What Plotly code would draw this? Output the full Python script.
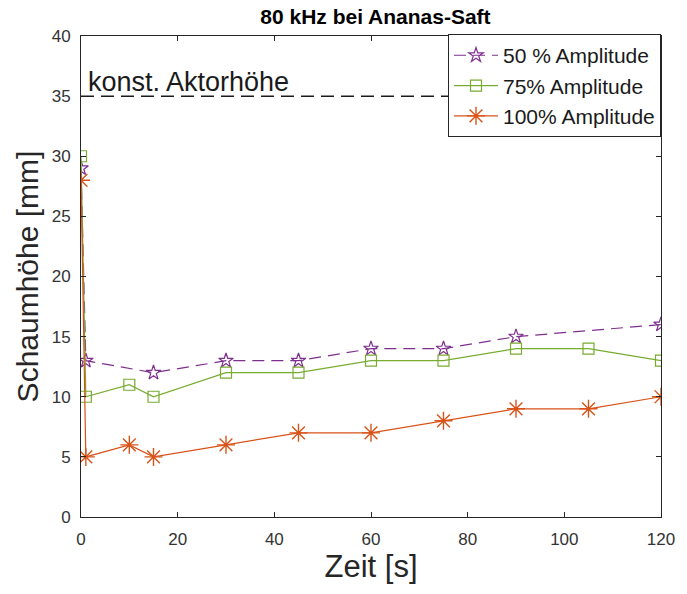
import plotly.graph_objects as go

# Data
t_50 = [0, 1, 15, 30, 45, 60, 75, 90, 120]
h_50 = [29, 13, 12, 13, 13, 14, 14, 15, 16]
t_75 = [0, 1, 10, 15, 30, 45, 60, 75, 90, 105, 120]
h_75 = [30, 10, 11, 10, 12, 12, 13, 13, 14, 14, 13]
t_100 = [0, 1, 10, 15, 30, 45, 60, 75, 90, 105, 120]
h_100 = [28, 5, 6, 5, 6, 7, 7, 8, 9, 9, 10]
aktor_hoehe = 35
x_range = [0, 120]
y_range = [0, 40]

FONT = "Liberation Sans, Arial, sans-serif"

fig = go.Figure()
fig.add_trace(go.Scatter(
    x=t_50, y=h_50, name="50 % Amplitude", mode="lines+markers",
    line=dict(color="#7E2F8E", width=1.2, dash="12px,7px"),
    marker=dict(symbol="star-open", size=11, color="#7E2F8E", line=dict(width=1.2, color="#7E2F8E")),
))
fig.add_trace(go.Scatter(
    x=t_75, y=h_75, name="75% Amplitude", mode="lines+markers",
    line=dict(color="#77AC30", width=1.2),
    marker=dict(symbol="square-open", size=11, color="#77AC30", line=dict(width=1.2, color="#77AC30")),
))
fig.add_trace(go.Scatter(
    x=t_100, y=h_100, name="100% Amplitude", mode="lines+markers",
    line=dict(color="#D95319", width=1.2),
    marker=dict(symbol="asterisk-open", size=15, color="#D95319", line=dict(width=1.4, color="#D95319")),
))

fig.add_shape(type="line", xref="x", yref="y", x0=x_range[0], x1=x_range[1],
              y0=aktor_hoehe, y1=aktor_hoehe, line=dict(color="#1a1a1a", width=1.5, dash="13px,7px"))
fig.add_annotation(x=0, y=aktor_hoehe, xref="x", yref="y", text="konst. Aktorhöhe",
                   showarrow=False, xanchor="left", yanchor="bottom", xshift=5, yshift=-3,
                   font=dict(family=FONT, size=27, color="#1a1a1a"))

axis_common = dict(
    showgrid=False, zeroline=False, showline=True, linecolor="#262626", linewidth=1,
    mirror="ticks", ticks="inside", ticklen=5, tickcolor="#262626",
    tickfont=dict(family=FONT, size=17, color="#333333"),
)
fig.update_xaxes(range=x_range, dtick=20, tick0=0, ticklabelstandoff=7,
                 title=dict(text="Zeit [s]", font=dict(family=FONT, size=31, color="#262626"), standoff=6),
                 **axis_common)
fig.update_yaxes(range=y_range, dtick=5, tick0=0, ticklabelstandoff=6,
                 title=dict(text="Schaumhöhe [mm]", font=dict(family=FONT, size=30, color="#262626"), standoff=4),
                 **axis_common)

fig.update_layout(
    width=687, height=594,
    margin=dict(l=81, r=17, t=36, b=77),
    plot_bgcolor="white", paper_bgcolor="white",
    title=dict(text="<b>80 kHz bei Ananas-Saft</b>", x=0.5465, xanchor="center", y=0.972, yanchor="middle",
               font=dict(family=FONT, size=21, color="black")),
    legend=dict(x=1.0, y=1.004, xanchor="right", yanchor="top",
                bgcolor="white", bordercolor="#262626", borderwidth=1,
                font=dict(family=FONT, size=21, color="#1a1a1a"),
                itemwidth=44, tracegroupgap=0),
    showlegend=True,
)

fig.write_html("out.html")
